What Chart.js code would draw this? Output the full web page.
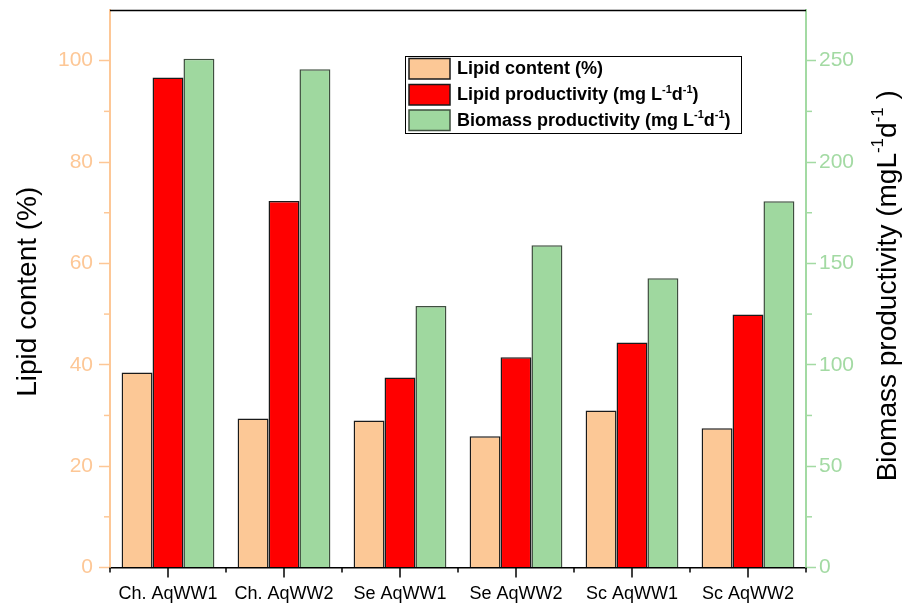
<!DOCTYPE html>
<html>
<head>
<meta charset="utf-8">
<script src="https://cdn.jsdelivr.net/npm/chart.js@4.4.1/dist/chart.umd.min.js"></script>
<style>
  html, body { margin: 0; padding: 0; background: #ffffff; }
  #wrap { width: 904px; height: 605px; }
</style>
</head>
<body>
<div id="wrap"><canvas id="chart" width="904" height="605"></canvas></div>
<script>
// Strains / wastewater combinations on the category axis
const categories = ['Ch. AqWW1', 'Ch. AqWW2', 'Se AqWW1', 'Se AqWW2', 'Sc AqWW1', 'Sc AqWW2'];

// Lipid content (%), left axis
const lipidContent = [38.5, 29.4, 29.0, 25.9, 31.0, 27.5];
// Lipid productivity (mg L-1 d-1), left axis
const lipidProductivity = [96.7, 72.3, 37.5, 41.5, 44.4, 49.9];
// Biomass productivity (mg L-1 d-1), right axis
const biomassProductivity = [250.9, 245.8, 129.0, 159.0, 142.7, 180.7];

// Axis ticks
const leftTicks = [0, 20, 40, 60, 80, 100];
const leftMinorTicks = [10, 30, 50, 70, 90];
const rightTicks = [0, 50, 100, 150, 200, 250];
const rightMinorTicks = [25, 75, 125, 175, 225];

// Text runs with superscripts
const leftTitle = [{ t: 'Lipid content (%)' }];
const rightTitle = [{ t: 'Biomass productivity (mgL' }, { t: '-1', sup: true }, { t: 'd' }, { t: '-1', sup: true }, { t: ' )' }];
const legendLabels = [
  [{ t: 'Lipid content (%)' }],
  [{ t: 'Lipid productivity (mg L' }, { t: '-1', sup: true }, { t: 'd' }, { t: '-1', sup: true }, { t: ')' }],
  [{ t: 'Biomass productivity (mg L' }, { t: '-1', sup: true }, { t: 'd' }, { t: '-1', sup: true }, { t: ')' }]
];

const FONT = '"Liberation Sans", Arial, Helvetica, sans-serif';
const ORANGE = '#fcc896';
const ORANGE_AXIS = '#fdc796';
const RED = '#ff0000';
const GREEN = '#9fd89f';
const GREEN_AXIS = '#a3daa3';

function runsWidth(ctx, runs, size, bold) {
  let w = 0;
  for (const r of runs) {
    const s = r.sup ? Math.round(size * 0.62) : size;
    ctx.font = (bold ? 'bold ' : '') + s + 'px ' + FONT;
    w += ctx.measureText(r.t).width;
  }
  return w;
}

function drawRuns(ctx, runs, x, y, size, bold, color) {
  ctx.fillStyle = color;
  ctx.textBaseline = 'middle';
  ctx.textAlign = 'left';
  let cx = x;
  for (const r of runs) {
    const s = r.sup ? Math.round(size * 0.62) : size;
    ctx.font = (bold ? 'bold ' : '') + s + 'px ' + FONT;
    const dy = r.sup ? -size * 0.33 : 0;
    ctx.fillText(r.t, cx, y + dy);
    cx += ctx.measureText(r.t).width;
  }
}

const decorPlugin = {
  id: 'decor',
  afterDraw(chart) {
    const ctx = chart.ctx;
    const area = chart.chartArea;
    const x = chart.scales.x;
    const yL = chart.scales.yLeft;
    const yR = chart.scales.yRight;
    ctx.save();

    // top frame line
    ctx.strokeStyle = '#000000';
    ctx.lineWidth = 1.5;
    ctx.beginPath();
    ctx.moveTo(area.left, area.top + 0.5);
    ctx.lineTo(area.right, area.top + 0.5);
    ctx.stroke();

    // minor ticks on the value axes
    ctx.lineWidth = 1.5;
    ctx.strokeStyle = ORANGE_AXIS;
    for (const v of leftMinorTicks) {
      const py = yL.getPixelForValue(v);
      ctx.beginPath();
      ctx.moveTo(area.left - 6, py);
      ctx.lineTo(area.left, py);
      ctx.stroke();
    }
    ctx.strokeStyle = GREEN_AXIS;
    for (const v of rightMinorTicks) {
      const py = yR.getPixelForValue(v);
      ctx.beginPath();
      ctx.moveTo(area.right, py);
      ctx.lineTo(area.right + 6, py);
      ctx.stroke();
    }

    // category ticks: long at group centres, short at group boundaries
    ctx.strokeStyle = '#000000';
    ctx.lineWidth = 1.5;
    const n = categories.length;
    for (let i = 0; i < n; i++) {
      const px = x.getPixelForValue(i);
      ctx.beginPath();
      ctx.moveTo(px, area.bottom);
      ctx.lineTo(px, area.bottom + 10);
      ctx.stroke();
    }
    for (let i = 0; i <= n; i++) {
      const px = x.getPixelForValue(i - 0.5);
      ctx.beginPath();
      ctx.moveTo(px, area.bottom);
      ctx.lineTo(px, area.bottom + 5);
      ctx.stroke();
    }

    // axis titles, both reading bottom to top
    const tSize = 28;
    let w = runsWidth(ctx, leftTitle, tSize, false);
    ctx.save();
    ctx.translate(28, (area.top + area.bottom) / 2 + 3);
    ctx.rotate(-Math.PI / 2);
    drawRuns(ctx, leftTitle, -w / 2, 0, tSize, false, '#000000');
    ctx.restore();

    w = runsWidth(ctx, rightTitle, tSize, false);
    ctx.save();
    ctx.translate(888, (area.top + area.bottom) / 2 - 3);
    ctx.rotate(-Math.PI / 2);
    drawRuns(ctx, rightTitle, -w / 2, 0, tSize, false, '#000000');
    ctx.restore();

    // legend box
    const bx = 405, by = 56, bw = 336, bh = 77;
    ctx.fillStyle = '#ffffff';
    ctx.fillRect(bx, by, bw, bh);
    ctx.strokeStyle = '#000000';
    ctx.lineWidth = 1;
    ctx.strokeRect(bx + 0.5, by + 0.5, bw, bh);
    const rowTop = [58.5, 84.5, 110];
    chart.data.datasets.forEach((ds, i) => {
      ctx.fillStyle = ds.backgroundColor;
      ctx.fillRect(409, rowTop[i], 41, 20.5);
      ctx.strokeStyle = ds.borderColor;
      ctx.lineWidth = 1.5;
      ctx.strokeRect(409, rowTop[i], 41, 20.5);
      drawRuns(ctx, legendLabels[i], 457, rowTop[i] + 11, 18, true, '#000000');
    });

    ctx.restore();
  }
};

new Chart(document.getElementById('chart'), {
  type: 'bar',
  data: {
    labels: categories,
    datasets: [
      {
        label: 'Lipid content (%)',
        data: lipidContent,
        yAxisID: 'yLeft',
        backgroundColor: ORANGE,
        borderColor: '#1a1a1a',
        borderWidth: 1.5
      },
      {
        label: 'Lipid productivity (mg L-1d-1)',
        data: lipidProductivity,
        yAxisID: 'yLeft',
        backgroundColor: RED,
        borderColor: '#1a1a1a',
        borderWidth: 1.5
      },
      {
        label: 'Biomass productivity (mg L-1d-1)',
        data: biomassProductivity,
        yAxisID: 'yRight',
        backgroundColor: GREEN,
        borderColor: '#3f4f3f',
        borderWidth: 1.5
      }
    ]
  },
  options: {
    responsive: false,
    animation: false,
    devicePixelRatio: 1,
    categoryPercentage: 0.8,
    barPercentage: 1.0,
    layout: { padding: { top: 10, left: 0, right: 0, bottom: 0 } },
    plugins: {
      legend: { display: false },
      tooltip: { enabled: false }
    },
    scales: {
      x: {
        offset: true,
        grid: { display: false, drawTicks: false },
        border: { display: true, color: '#000000', width: 1.5 },
        ticks: {
          color: '#000000',
          font: { family: FONT, size: 18 },
          padding: 16,
          maxRotation: 0,
          autoSkip: false
        },
        afterFit(scale) {
          scale.height = 37.5;
          scale.paddingLeft = 0;
          scale.paddingRight = 0;
        }
      },
      yLeft: {
        position: 'left',
        min: 0,
        max: 110,
        afterBuildTicks(scale) { scale.ticks = leftTicks.map(v => ({ value: v })); },
        grid: { drawOnChartArea: false, drawTicks: true, tickLength: 11, tickWidth: 1.5, tickColor: ORANGE_AXIS },
        border: { display: true, color: ORANGE_AXIS, width: 2 },
        ticks: {
          color: ORANGE_AXIS,
          font: { family: FONT, size: 21 },
          padding: 6
        },
        afterFit(scale) {
          scale.width = 110;
          scale.paddingTop = 0;
          scale.paddingBottom = 0;
        }
      },
      yRight: {
        position: 'right',
        min: 0,
        max: 275,
        afterBuildTicks(scale) { scale.ticks = rightTicks.map(v => ({ value: v })); },
        grid: { drawOnChartArea: false, drawTicks: true, tickLength: 10, tickWidth: 1.5, tickColor: GREEN_AXIS },
        border: { display: true, color: GREEN_AXIS, width: 2 },
        ticks: {
          color: GREEN_AXIS,
          font: { family: FONT, size: 21 },
          padding: 3
        },
        afterFit(scale) {
          scale.width = 98;
          scale.paddingTop = 0;
          scale.paddingBottom = 0;
        }
      }
    }
  },
  plugins: [decorPlugin]
});
</script>
</body>
</html>
